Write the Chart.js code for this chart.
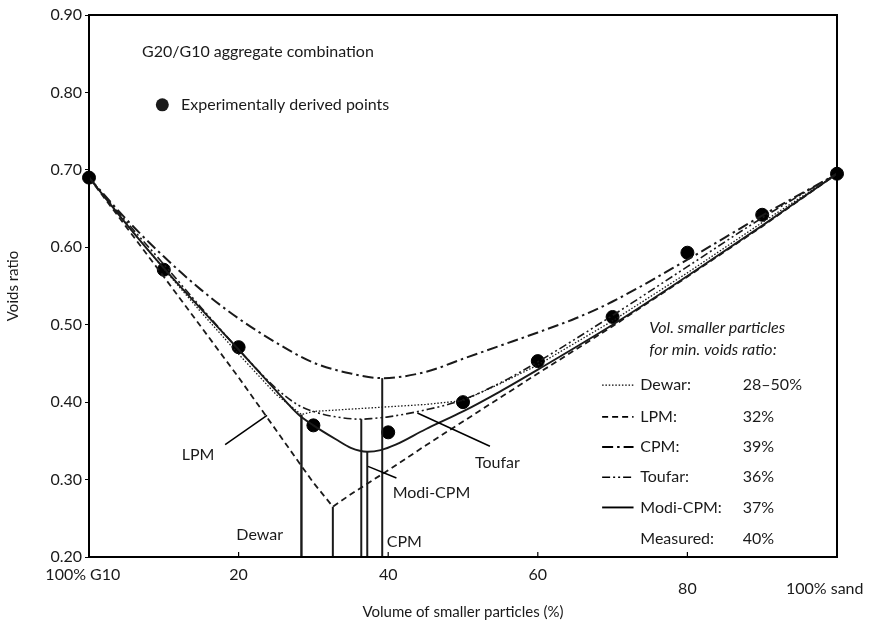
<!DOCTYPE html>
<html lang="en">
<head>
<meta charset="UTF-8">
<title>G20/G10 voids ratio</title>
<script src="https://cdn.jsdelivr.net/npm/chart.js@4.4.0/dist/chart.umd.min.js"></script>
<style>
    html, body { margin: 0; padding: 0; background: #fff; }
    #wrap { width: 872px; height: 628px; }
</style>
</head>
<body>
<div id="wrap"><canvas id="chart"></canvas></div>
<script>
// volume of smaller particles (%) and voids ratio
const dewarX = [0, 5, 10, 15, 20, 25, 28.4, 30, 35, 40, 45, 50, 55, 60, 70, 80, 90, 100];
const dewarY = [0.690, 0.630, 0.572, 0.516, 0.462, 0.410, 0.384, 0.388, 0.391, 0.394, 0.397, 0.402, 0.424, 0.448, 0.505, 0.567, 0.632, 0.695];

const lpmX = [0, 5, 10, 15, 20, 25, 28, 30, 32.6, 35, 40, 45, 50, 60, 70, 80, 90, 100];
const lpmY = [0.690, 0.626, 0.562, 0.497, 0.432, 0.364, 0.323, 0.296, 0.265, 0.281, 0.312, 0.344, 0.375, 0.437, 0.498, 0.562, 0.627, 0.695];

const cpmX = [0, 5, 10, 15, 20, 25, 30, 35, 39.2, 45, 50, 55, 60, 65, 70, 80, 90, 100];
const cpmY = [0.690, 0.636, 0.588, 0.545, 0.508, 0.477, 0.451, 0.437, 0.431, 0.439, 0.456, 0.473, 0.490, 0.508, 0.530, 0.584, 0.641, 0.695];

const toufarX = [0, 5, 10, 15, 20, 25, 28, 30, 33, 36.4, 38, 40, 45, 50, 55, 60, 70, 80, 90, 100];
const toufarY = [0.690, 0.633, 0.578, 0.522, 0.468, 0.418, 0.396, 0.388, 0.381, 0.378, 0.379, 0.381, 0.390, 0.403, 0.425, 0.452, 0.512, 0.575, 0.638, 0.695];

const modiX = [0, 5, 10, 15, 20, 25, 28, 30, 33, 35, 37.2, 39, 41, 45, 50, 55, 60, 70, 80, 90, 100];
const modiY = [0.690, 0.630, 0.573, 0.520, 0.468, 0.415, 0.384, 0.370, 0.352, 0.341, 0.336, 0.338, 0.345, 0.365, 0.388, 0.414, 0.442, 0.500, 0.563, 0.628, 0.695];

// experimentally derived points
const measuredX = [0, 10, 20, 30, 40, 50, 60, 70, 80, 90, 100];
const measuredY = [0.690, 0.571, 0.471, 0.370, 0.361, 0.400, 0.453, 0.510, 0.593, 0.642, 0.695];

// minimum voids ratio drop lines (x of min, voids ratio at min)
const minNames = ['Dewar', 'LPM', 'CPM', 'Toufar', 'Modi-CPM'];
const minX = [28.4, 32.6, 39.2, 36.4, 37.2];
const minY = [0.384, 0.265, 0.431, 0.378, 0.336];

// legend table
const legendNames = ['Dewar:', 'LPM:', 'CPM:', 'Toufar:', 'Modi-CPM:', 'Measured:'];
const legendPct = ['28\u201350%', '32%', '39%', '36%', '37%', '40%'];

const xTicks = [0, 20, 40, 60, 80, 100];
const yTicks = [0.2, 0.3, 0.4, 0.5, 0.6, 0.7, 0.8, 0.9];

const FONT = 'Lato, "Open Sans", sans-serif';
const INK = '#1a1a1a';

const styles = {
    'Dewar':    { dash: [1.5, 1.8], width: 1.3, tension: 0 },
    'LPM':      { dash: [6, 4], width: 1.8, tension: 0 },
    'CPM':      { dash: [11, 4, 2.5, 4], width: 2, tension: 0.3 },
    'Toufar':   { dash: [8, 3, 2, 3, 2, 3], width: 1.6, tension: 0.3 },
    'Modi-CPM': { dash: [], width: 1.9, tension: 0.3 }
};

function pts(xs, ys) {
    return xs.map((x, i) => ({ x: x, y: ys[i] }));
}

function curve(name, xs, ys) {
    const s = styles[name];
    return {
        label: name,
        data: pts(xs, ys),
        showLine: true,
        borderColor: INK,
        borderWidth: s.width,
        borderDash: s.dash,
        tension: s.tension,
        cubicInterpolationMode: s.tension ? 'monotone' : 'default',
        pointRadius: 0,
        fill: false
    };
}

const datasets = [
    curve('Dewar', dewarX, dewarY),
    curve('LPM', lpmX, lpmY),
    curve('CPM', cpmX, cpmY),
    curve('Toufar', toufarX, toufarY),
    curve('Modi-CPM', modiX, modiY)
];

minX.forEach((x, i) => {
    datasets.push({
        label: minNames[i] + ' min',
        data: [{ x: x, y: 0.2 }, { x: x, y: minY[i] }],
        showLine: true,
        borderColor: INK,
        borderWidth: i === 0 ? 2.4 : 2,
        pointRadius: 0
    });
});

datasets.push({
    label: 'Experimentally derived points',
    data: pts(measuredX, measuredY),
    showLine: false,
    pointRadius: 6.5,
    pointBackgroundColor: '#000',
    pointBorderColor: '#000',
    clip: false
});

// text and pointer lines, placed in data units
const notes = [
    { text: 'G20/G10 aggregate combination', x: 7.1, y: 0.852 },
    { text: 'Experimentally derived points', x: 12.3, y: 0.784 },
    { text: 'LPM', x: 12.4, y: 0.332 },
    { text: 'Dewar', x: 19.7, y: 0.228 },
    { text: 'Modi-CPM', x: 40.6, y: 0.283 },
    { text: 'CPM', x: 39.8, y: 0.219 },
    { text: 'Toufar', x: 51.6, y: 0.321 },
    { text: 'Vol. smaller particles', x: 74.9, y: 0.496, italic: true },
    { text: 'for min. voids ratio:', x: 74.9, y: 0.467, italic: true }
];
const pointers = [
    { x1: 18.2, y1: 0.345, x2: 23.8, y2: 0.383 },
    { x1: 37.3, y1: 0.317, x2: 41.1, y2: 0.302 },
    { x1: 43.9, y1: 0.386, x2: 53.6, y2: 0.343 }
];
const legendRowY = [0.422, 0.381, 0.342, 0.303, 0.264, 0.223];

const paper = {
    id: 'paper',
    afterDatasetsDraw(chart) {
        const { ctx, chartArea: a, scales: { x, y } } = chart;
        ctx.save();
        ctx.strokeStyle = '#000';
        ctx.lineWidth = 2;
        ctx.setLineDash([]);
        ctx.strokeRect(a.left, a.top, a.right - a.left, a.bottom - a.top);

        // short inward ticks on the bottom axis
        ctx.lineWidth = 1.2;
        xTicks.slice(1, -1).forEach(v => {
            const px = x.getPixelForValue(v);
            ctx.beginPath();
            ctx.moveTo(px, a.bottom);
            ctx.lineTo(px, a.bottom - 5);
            ctx.stroke();
        });

        ctx.fillStyle = INK;
        ctx.textBaseline = 'middle';
        ctx.textAlign = 'left';
        notes.forEach(n => {
            ctx.font = (n.italic ? 'italic ' : '') + '16px ' + FONT;
            ctx.fillText(n.text, x.getPixelForValue(n.x), y.getPixelForValue(n.y));
        });

        // dot in front of "Experimentally derived points"
        ctx.beginPath();
        ctx.arc(x.getPixelForValue(9.8), y.getPixelForValue(0.784), 6.5, 0, Math.PI * 2);
        ctx.fill();

        ctx.lineWidth = 1.5;
        pointers.forEach(p => {
            ctx.beginPath();
            ctx.moveTo(x.getPixelForValue(p.x1), y.getPixelForValue(p.y1));
            ctx.lineTo(x.getPixelForValue(p.x2), y.getPixelForValue(p.y2));
            ctx.stroke();
        });

        // legend table on the right
        ctx.font = '16px ' + FONT;
        legendNames.forEach((name, i) => {
            const py = y.getPixelForValue(legendRowY[i]);
            if (i < minNames.length) {
                const s = styles[minNames[i]];
                ctx.beginPath();
                ctx.setLineDash(s.dash);
                ctx.lineWidth = s.width;
                ctx.moveTo(x.getPixelForValue(68.6), py);
                ctx.lineTo(x.getPixelForValue(72.8), py);
                ctx.stroke();
                ctx.setLineDash([]);
            }
            ctx.fillText(name, x.getPixelForValue(73.7), py);
            ctx.fillText(legendPct[i], x.getPixelForValue(87.4), py);
        });
        ctx.restore();
    }
};

new Chart(document.getElementById('chart'), {
    type: 'scatter',
    data: { datasets: datasets },
    options: {
        responsive: true,
        maintainAspectRatio: false,
        animation: false,
        layout: { padding: { top: 15, right: 35, bottom: 0, left: 0 } },
        plugins: {
            legend: { display: false },
            tooltip: { enabled: false }
        },
        scales: {
            x: {
                type: 'linear',
                min: 0,
                max: 100,
                afterFit: s => {
                    s.height = 71;
                    s.paddingLeft = 0;
                    s.paddingRight = 0;
                },
                afterBuildTicks: s => { s.ticks = xTicks.map(v => ({ value: v })); },
                grid: { display: false, drawTicks: false },
                border: { display: false },
                ticks: {
                    color: INK,
                    padding: 11,
                    maxRotation: 0,
                    font: { family: FONT, size: 16, lineHeight: 0.85 },
                    callback: v => {
                        // end labels sit a little left of their tick in the original
                        if (v === 0) return '100% G10   ';
                        if (v === 100) return ['', '100% sand      '];
                        if (v === 80) return ['', '80'];
                        return String(v);
                    }
                },
                title: {
                    display: true,
                    text: 'Volume of smaller particles (%)',
                    color: INK,
                    font: { family: FONT, size: 15 },
                    padding: { top: 0, bottom: 7 }
                }
            },
            y: {
                type: 'linear',
                min: 0.2,
                max: 0.9,
                afterFit: s => { s.width = 89; },
                afterBuildTicks: s => { s.ticks = yTicks.map(v => ({ value: v })); },
                grid: { display: true, drawOnChartArea: false, tickLength: 4, color: '#000' },
                border: { display: false },
                ticks: {
                    color: INK,
                    padding: 3,
                    font: { family: FONT, size: 16 },
                    callback: v => v.toFixed(2)
                },
                title: {
                    display: true,
                    text: 'Voids ratio',
                    color: INK,
                    font: { family: FONT, size: 15 },
                    padding: { top: 4, bottom: 0 }
                }
            }
        }
    },
    plugins: [paper]
});
</script>
</body>
</html>
